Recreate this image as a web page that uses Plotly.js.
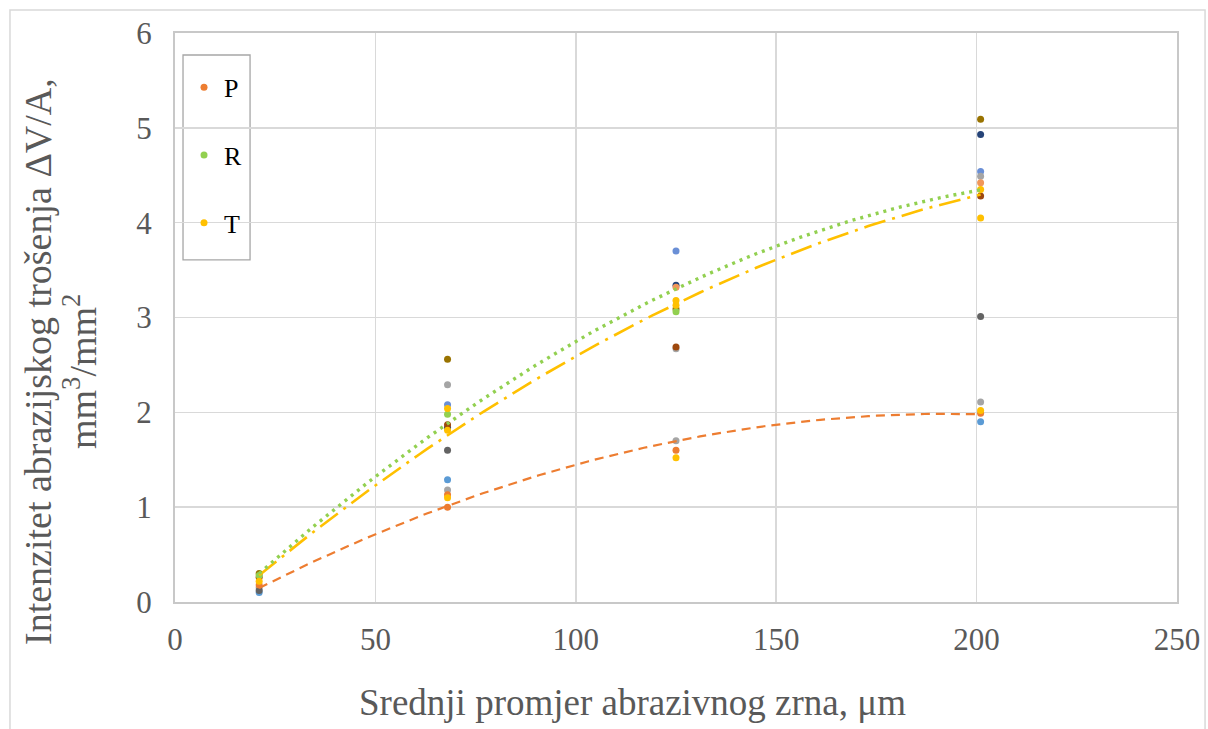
<!DOCTYPE html>
<html>
<head>
<meta charset="utf-8">
<script src="https://cdn.plot.ly/plotly-3.0.1.min.js"></script>
<style>
html,body{margin:0;padding:0;background:#fff;}
#chart{width:1208px;height:729px;}
</style>
</head>
<body>
<div id="chart"></div>
<script>
// ---- data ----
const pX = [21, 68, 68, 125, 201];
const pY = [0.18, 1.13, 1.00, 1.60, 1.99];
const rX = [21, 68, 125];
const rY = [0.28, 1.98, 3.06];
const tX = [21, 68, 68, 68, 125, 125, 125, 201, 201, 201];
const tY = [0.22, 2.04, 1.81, 1.10, 3.18, 3.13, 1.52, 4.35, 4.05, 2.02];

const blueX = [68, 125, 201];
const blueY = [2.08, 3.70, 4.54];
const lightBlueX = [21, 68, 201];
const lightBlueY = [0.10, 1.29, 1.90];
const grayX = [21, 68, 68, 125, 125, 201, 201];
const grayY = [0.15, 2.29, 1.18, 2.67, 1.70, 4.49, 2.11];
const darkGoldX = [21, 68, 125, 201];
const darkGoldY = [0.30, 2.56, 3.09, 5.09];
const darkBlueX = [68, 125, 201];
const darkBlueY = [1.84, 3.34, 4.93];
const brownX = [21, 68, 125, 201];
const brownY = [0.26, 1.87, 2.69, 4.28];
const darkGrayX = [21, 68, 201];
const darkGrayY = [0.12, 1.60, 3.01];
const salmonX = [125, 201];
const salmonY = [3.32, 4.42];

// trend line readings (polynomial trend lines in the reference)
const trendX = [21, 50, 100, 150, 201];
const pTrend = [0.15, 0.71, 1.45, 1.87, 1.98];
const rTrend = [0.30, 1.32, 2.76, 3.74, 4.35];
const tTrend = [0.28, 1.23, 2.60, 3.60, 4.30];

const xTicks = [0, 50, 100, 150, 200, 250];
const yTicks = [0, 1, 2, 3, 4, 5, 6];

// quadratic least-squares fit (as a spreadsheet polynomial trend line)
function quadFit(xs, ys) {
  let s = [0,0,0,0,0], t = [0,0,0];
  for (let i = 0; i < xs.length; i++) {
    let p = 1;
    for (let k = 0; k < 5; k++) { s[k] += p; p *= xs[i]; }
    t[0] += ys[i]; t[1] += ys[i]*xs[i]; t[2] += ys[i]*xs[i]*xs[i];
  }
  const M = [[s[0],s[1],s[2],t[0]],[s[1],s[2],s[3],t[1]],[s[2],s[3],s[4],t[2]]];
  for (let c = 0; c < 3; c++) {
    for (let r = c+1; r < 3; r++) {
      const f = M[r][c]/M[c][c];
      for (let k = c; k < 4; k++) M[r][k] -= f*M[c][k];
    }
  }
  const a = [0,0,0];
  for (let r = 2; r >= 0; r--) {
    let v = M[r][3];
    for (let k = r+1; k < 3; k++) v -= M[r][k]*a[k];
    a[r] = v/M[r][r];
  }
  return a;
}
function trendCurve(xs, ys) {
  const a = quadFit(xs, ys);
  const x0 = xs[0], x1 = xs[xs.length-1];
  const cx = [], cy = [];
  for (let i = 0; i <= 90; i++) {
    const x = x0 + (x1-x0)*i/90;
    cx.push(x); cy.push(a[0] + a[1]*x + a[2]*x*x);
  }
  return {x: cx, y: cy};
}

const cP = '#ED7D31', cR = '#92D050', cT = '#FFC000';
const mk = 7;
function pts(x, y, color, name, show, group) {
  return {type:'scatter', mode:'markers', x:x, y:y, name:name, showlegend:show,
    legendgroup: group, marker:{color:color, size:mk}, hoverinfo:'x+y'};
}

const pc = trendCurve(trendX, pTrend);
const rc = trendCurve(trendX, rTrend);
const tc = trendCurve(trendX, tTrend);

const traces = [
  pts(blueX, blueY, '#6A8FD6', 'S1', false, 'g4'),
  pts(lightBlueX, lightBlueY, '#5B9BD5', 'S2', false, 'g5'),
  pts(grayX, grayY, '#A5A5A5', 'S3', false, 'g6'),
  pts(darkGoldX, darkGoldY, '#997300', 'S4', false, 'g7'),
  pts(darkBlueX, darkBlueY, '#264478', 'S5', false, 'g8'),
  pts(brownX, brownY, '#9E480E', 'S6', false, 'g9'),
  pts(darkGrayX, darkGrayY, '#636363', 'S7', false, 'g10'),
  pts(salmonX, salmonY, '#F1975A', 'S8', false, 'g11'),
  pts(pX, pY, cP, 'P', true, 'g1'),
  pts(rX, rY, cR, 'R', true, 'g2'),
  pts(tX, tY, cT, 'T', true, 'g3'),
  {type:'scatter', mode:'lines', x:pc.x, y:pc.y, showlegend:false, hoverinfo:'skip',
    line:{color:cP, width:2.2, dash:'9px,6px'}},
  {type:'scatter', mode:'lines', x:tc.x, y:tc.y, showlegend:false, hoverinfo:'skip',
    line:{color:cT, width:2.6, dash:'22px,7px,3px,7px'}},
  {type:'scatter', mode:'lines', x:rc.x, y:rc.y, showlegend:false, hoverinfo:'skip',
    line:{color:cR, width:3.4, dash:'3px,5px'}}
];

function serif(size, color) {
  return {family:'Liberation Serif', size:size, color:color, weight:'normal'};
}

const layout = {
  width:1208, height:729,
  margin:{l:175, r:31, t:33, b:127},
  paper_bgcolor:'#fff', plot_bgcolor:'#fff',
  font:serif(31, '#595959'),
  showlegend:true,
  legend:{x:0.009, y:0.946, xanchor:'left', yanchor:'top',
    bgcolor:'rgba(0,0,0,0)', borderwidth:0,
    font:serif(26, '#000'),
    traceorder:'grouped', tracegroupgap:31, itemwidth:30},
  xaxis:{range:[0,250], tickvals:xTicks, ticktext:xTicks.map(String),
    showgrid:true, gridcolor:'#D9D9D9', gridwidth:1.5,
    zeroline:false, showline:true, linecolor:'#C8C8C8', linewidth:2, mirror:true,
    ticks:'outside', ticklen:9, tickcolor:'rgba(0,0,0,0)', tickfont:serif(31, '#595959'), fixedrange:true},
  yaxis:{range:[0,6], tickvals:yTicks, ticktext:yTicks.map(String),
    showgrid:true, gridcolor:'#D9D9D9', gridwidth:1.5,
    zeroline:false, showline:true, linecolor:'#C8C8C8', linewidth:2, mirror:true,
    ticks:'outside', ticklen:15, tickcolor:'rgba(0,0,0,0)', tickfont:serif(31, '#595959'), fixedrange:true},
  annotations:[
    {text:'Intenzitet abrazijskog trošenja ΔV/A,',
     xref:'paper', yref:'paper', x:-0.1367, y:0.4218, xanchor:'center', yanchor:'middle',
     textangle:-90, showarrow:false, font:serif(38, '#595959')},
    {text:'mm<sup>3</sup>/mm<sup>2</sup>',
     xref:'paper', yref:'paper', x:-0.0948, y:0.4042, xanchor:'center', yanchor:'middle',
     textangle:-90, showarrow:false, font:serif(38, '#595959')},
    {text:'Srednji promjer abrazivnog zrna, μm',
     xref:'paper', yref:'paper', x:0.457, y:-0.1775, xanchor:'center', yanchor:'middle',
     showarrow:false, font:serif(37, '#595959')}
  ],
  shapes:[
    {type:'rect', xref:'paper', yref:'paper', x0:-0.1647, x1:1.028, y0:-0.3, y1:1.0404,
     line:{color:'#D9D9D9', width:1.5}, fillcolor:'rgba(0,0,0,0)', layer:'below'},
    {type:'rect', xref:'paper', yref:'paper', x0:0.008, x1:0.0749, y0:0.6011, y1:0.9613,
     line:{color:'#A6A6A6', width:1.3}, fillcolor:'#fff', layer:'below'}
  ]
};

Plotly.newPlot('chart', traces, layout, {displayModeBar:false, staticPlot:true});
</script>
</body>
</html>
